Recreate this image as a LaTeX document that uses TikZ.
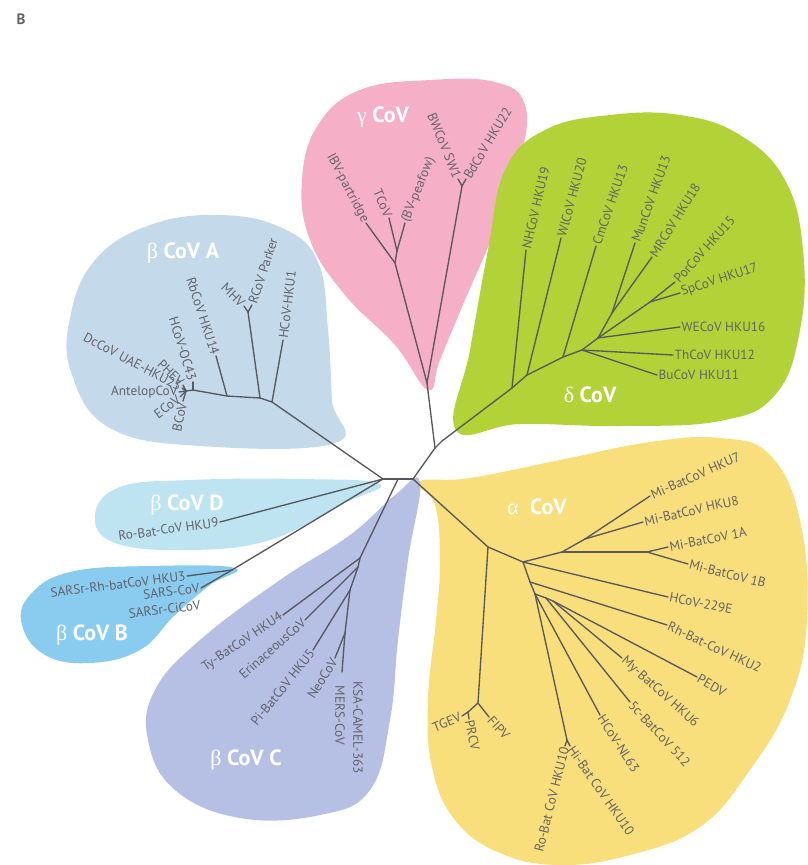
\documentclass[tikz,border=0pt]{standalone}
\usepackage{fontspec}
\setmainfont{PT Sans}
\newfontfamily\grk{Liberation Serif}

\definecolor{brgray}{RGB}{88,89,94}
\definecolor{lblgray}{RGB}{98,99,104}
\definecolor{alphaY}{RGB}{249,223,123}
\definecolor{deltaG}{RGB}{178,210,55}
\definecolor{gammaP}{RGB}{245,176,200}
\definecolor{betaA}{RGB}{196,218,235}
\definecolor{betaD}{RGB}{190,228,242}
\definecolor{betaB}{RGB}{138,203,240}
\definecolor{betaC}{RGB}{181,192,228}

\begin{document}
\begin{tikzpicture}[x=1pt,y=-1pt,
    br/.style={draw=brgray, line width=1.35pt, line cap=round},
    lbl/.style={text=lblgray, font=\fontsize{13.3}{15}\selectfont, inner sep=1.5pt},
    clade/.style={text=white, font=\fontsize{22}{26}\selectfont\bfseries}]

\useasboundingbox (0,0) rectangle (807,865);

\node[text=lblgray, font=\bfseries\fontsize{15}{17}\selectfont] (panel) at (21,19) {B};

% clade areas
\fill[betaA] plot[smooth cycle, tension=0.7] coordinates {(335,443) (200,446) (110,428) (72,375) (70,318) (95,260) (150,225) (220,215) (282,228) (318,262) (328,330) (332,400)};
\fill[gammaP] plot[smooth cycle, tension=0.7] coordinates {(428,390) (395,345) (345,295) (310,240) (302,180) (318,125) (360,90) (430,80) (495,82) (525,105) (520,160) (495,230) (465,300) (440,360)};
\fill[deltaG] plot[smooth cycle, tension=0.7] coordinates {(456,430) (520,424) (620,426) (720,421) (775,395) (800,330) (803,250) (785,180) (740,135) (680,115) (610,115) (545,130) (505,170) (488,250) (470,350)};
\fill[alphaY] plot[smooth cycle, tension=0.7] coordinates {(418,482) (470,478) (560,460) (650,442) (720,438) (770,455) (800,520) (807,620) (790,700) (750,770) (700,827) (630,855) (560,865) (500,853) (455,820) (432,767) (428,700) (436,620) (440,560) (435,505)};
\fill[betaD] plot[smooth cycle, tension=0.7] coordinates {(380,484) (300,479) (190,480) (120,487) (95,515) (115,543) (190,550) (270,540) (340,505)};
\fill[betaB] plot[smooth cycle, tension=0.7] coordinates {(235,568) (150,566) (70,572) (30,595) (22,625) (45,655) (90,663) (140,650) (175,615) (210,585)};
\fill[betaC] plot[smooth cycle, tension=0.7] coordinates {(420,482) (395,495) (350,535) (280,580) (200,640) (155,690) (148,740) (175,790) (240,818) (320,815) (370,790) (390,720) (398,640) (408,560)};

% hub
\coordinate (L) at (383,479);
\coordinate (Mc) at (398,479);
\coordinate (R) at (413,479);
\coordinate (G1) at (435,448);
\coordinate (d0) at (442,441);
% gamma
\coordinate (gR) at (427,383);
\coordinate (gN1) at (395,263);
\coordinate (gN2) at (397,251);
\coordinate (gF) at (462,186);
\coordinate (gIBVp) at (366,223);
\coordinate (gTCoV) at (389,218);
\coordinate (gIBVf) at (405,223);
\coordinate (gBW) at (458,179);
\coordinate (gBd) at (466,179);
% delta
\coordinate (dA) at (512,388);
\coordinate (dB) at (527,375);
\coordinate (dC) at (563,357);
\coordinate (dD) at (582,350);
\coordinate (dE) at (598,338);
\coordinate (dH) at (612,313);
\coordinate (dG) at (650,302);
\coordinate (dNH) at (526,250);
\coordinate (dWl) at (561,238);
\coordinate (dCm) at (596,246);
\coordinate (dMun) at (635,243);
\coordinate (dMR) at (652,257);
\coordinate (dPor) at (675,282);
\coordinate (dSp) at (680,293);
\coordinate (dWE) at (680,327);
\coordinate (dTh) at (673,355);
\coordinate (dBu) at (657,375);
% alpha
\coordinate (A0) at (488,547);
\coordinate (A1) at (523,562);
\coordinate (aM0) at (562,552);
\coordinate (aM1) at (585,539);
\coordinate (aM2) at (647,552);
\coordinate (A3) at (530,582);
\coordinate (A4) at (535,594);
\coordinate (A6) at (546,598);
\coordinate (A7) at (553,601);
\coordinate (aT) at (478,703);
\coordinate (aTP) at (468,712);
\coordinate (aRH) at (567,740);
\coordinate (a7) at (650,496);
\coordinate (a8) at (643,522);
\coordinate (a1A) at (668,547);
\coordinate (a1B) at (688,564);
\coordinate (a229) at (668,597);
\coordinate (aRh) at (667,625);
\coordinate (aPED) at (697,677);
\coordinate (aMy) at (622,658);
\coordinate (a5c) at (630,702);
\coordinate (aNL) at (600,715);
\coordinate (aHi) at (570,746);
\coordinate (aRo) at (565,746);
\coordinate (aTG) at (462,716);
\coordinate (aPR) at (469,719);
\coordinate (aFI) at (489,717);
% beta A
\coordinate (bA) at (272,402);
\coordinate (aN1) at (260,398);
\coordinate (aF) at (248,312);
\coordinate (aN2) at (227,396);
\coordinate (aN3) at (193,390);
\coordinate (aN4) at (186,391);
\coordinate (bHKU1) at (283,340);
\coordinate (bMHV) at (244,306);
\coordinate (bRCoV) at (252,305);
\coordinate (bHKU14) at (216,356);
\coordinate (bOC43) at (193,382);
\coordinate (bPHEV) at (183,385);
\coordinate (bDc) at (182,388);
\coordinate (bAnt) at (179,392);
\coordinate (bE) at (180,397);
\coordinate (bBC) at (183,401);
% beta D, B
\coordinate (bD9) at (220,522);
\coordinate (Broot) at (232,570);
\coordinate (bH3) at (187,576);
\coordinate (bSARS) at (201,588);
% beta C
\coordinate (cN1) at (360,558);
\coordinate (cN2) at (358,567);
\coordinate (cN3) at (350,590);
\coordinate (cN4) at (345,633);
\coordinate (cTy) at (283,615);
\coordinate (cEr) at (305,620);
\coordinate (cPi) at (313,650);
\coordinate (cNeo) at (335,658);
\coordinate (cMK) at (342,672);

% branches
\foreach \a/\b in {L/Mc, Mc/R, R/G1, G1/d0, G1/gR, R/A0, L/bA, L/bD9, L/Broot, Mc/cN1,
    gR/gN1, gN1/gIBVp, gN1/gN2, gN2/gTCoV, gN2/gIBVf, gR/gF, gF/gBW, gF/gBd,
    d0/dA, dA/dNH, dA/dB, dB/dWl, dB/dC, dC/dCm, dC/dD, dD/dBu, dD/dTh, dD/dE, dE/dWE,
    dE/dH, dH/dMun, dH/dMR, dE/dG, dG/dPor, dG/dSp,
    A0/A1, A0/aT, aT/aTP, aTP/aTG, aTP/aPR, aT/aFI,
    A1/aM0, aM0/aM1, aM1/a7, aM1/a8, aM0/aM2, aM2/a1A, aM2/a1B, A1/a229,
    A1/A3, A3/aRh, A3/A4, A4/aRH, aRH/aHi, aRH/aRo, A4/aNL, A4/A6, A6/a5c, A6/A7, A7/aPED, A7/aMy,
    bA/bHKU1, bA/aN1, aN1/aF, aF/bMHV, aF/bRCoV, aN1/aN2, aN2/bHKU14, aN2/aN3, aN3/bOC43,
    aN3/aN4, aN4/bPHEV, aN4/bDc, aN4/bAnt, aN4/bE, aN4/bBC,
    Broot/bH3, Broot/bSARS,
    cN1/cTy, cN1/cN2, cN2/cEr, cN2/cN3, cN3/cPi, cN3/cN4, cN4/cNeo, cN4/cMK}
  \draw[br] (\a) -- (\b);

% gamma labels
\node[lbl, anchor=east, rotate=-62] (tIBVp) at (gIBVp) {IBV-partridge};
\node[lbl, anchor=east, rotate=-67] (tTCoV) at (gTCoV) {TCoV};
\node[lbl, anchor=west, rotate=68] (tIBVf) at (gIBVf) {(BV-peafow)};
\node[lbl, anchor=east, rotate=-68] (tBW) at (gBW) {BWCoV SW1};
\node[lbl, anchor=west, rotate=59] (tBd) at (gBd) {BdCoV HKU22};
% delta labels
\node[lbl, anchor=west, rotate=77] (tNH) at (dNH) {NHCoV HKU19};
\node[lbl, anchor=west, rotate=75] (tWl) at (dWl) {WlCoV HKU20};
\node[lbl, anchor=west, rotate=71] (tCm) at (dCm) {CmCoV HKU13};
\node[lbl, anchor=west, rotate=70] (tMun) at (dMun) {MunCoV HKU13};
\node[lbl, anchor=west, rotate=58] (tMR) at (dMR) {MRCoV HKU18};
\node[lbl, anchor=west, rotate=48] (tPor) at (dPor) {PorCoV HKU15};
\node[lbl, anchor=west, rotate=18] (tSp) at (dSp) {SpCoV HKU17};
\node[lbl, anchor=west] (tWE) at (dWE) {WECoV HKU16};
\node[lbl, anchor=west] (tTh) at (dTh) {ThCoV HKU12};
\node[lbl, anchor=west] (tBu) at (dBu) {BuCoV HKU11};
% alpha labels
\node[lbl, anchor=west, rotate=24] (t7) at (a7) {Mi-BatCoV HKU7};
\node[lbl, anchor=west, rotate=13] (t8) at (a8) {Mi-BatCoV HKU8};
\node[lbl, anchor=west, rotate=11] (t1A) at (a1A) {Mi-BatCoV 1A};
\node[lbl, anchor=west, rotate=-14] (t1B) at (a1B) {Mi-BatCoV 1B};
\node[lbl, anchor=west, rotate=-11] (t229) at (a229) {HCoV-229E};
\node[lbl, anchor=west, rotate=-25] (tRh) at (aRh) {Rh-Bat-CoV HKU2};
\node[lbl, anchor=west, rotate=-30] (tPED) at (aPED) {PEDV};
\node[lbl, anchor=west, rotate=-42] (tMy) at (aMy) {My-BatCoV HKU6};
\node[lbl, anchor=west, rotate=-47] (t5c) at (a5c) {5c-BatCoV 512};
\node[lbl, anchor=west, rotate=-57] (tNL) at (aNL) {HCoV-NL63};
\node[lbl, anchor=west, rotate=-55] (tHi) at (aHi) {Hi-Bat CoV HKU10};
\node[lbl, anchor=east, rotate=76] (tRo) at (aRo) {Ro-Bat CoV HKU10};
\node[lbl, anchor=east, rotate=22] (tTG) at (aTG) {TGEV};
\node[lbl, anchor=west, rotate=-78] (tPR) at (aPR) {PRCV};
\node[lbl, anchor=west, rotate=-48] (tFI) at (aFI) {FIPV};
% beta A labels
\node[lbl, anchor=west, rotate=83] (tHKU1) at (bHKU1) {HCoV-HKU1};
\node[lbl, anchor=west, rotate=72] (tRCoV) at (bRCoV) {RCoV Parker};
\node[lbl, anchor=east, rotate=-45] (tMHV) at (bMHV) {MHV};
\node[lbl, anchor=east, rotate=-72] (tHKU14) at (bHKU14) {RbCoV HKU14};
\node[lbl, anchor=east, rotate=-73] (tOC43) at (bOC43) {HCoV-OC43};
\node[lbl, anchor=east, rotate=-45] (tPHEV) at (bPHEV) {PHEV};
\node[lbl, anchor=east, rotate=-28] (tDc) at (bDc) {DcCoV UAE-HKU23};
\node[lbl, anchor=east] (tAnt) at (bAnt) {AntelopCoV};
\node[lbl, anchor=east, rotate=37] (tE) at (bE) {ECoV};
\node[lbl, anchor=east, rotate=78] (tBC) at (bBC) {BCoV};
% beta D, B labels
\node[lbl, anchor=east, rotate=8] (tD9) at (bD9) {Ro-Bat-CoV HKU9};
\node[lbl, anchor=east, rotate=7] (tH3) at (bH3) {SARSr-Rh-batCoV HKU3};
\node[lbl, anchor=east, rotate=7] (tSARS) at (bSARS) {SARS-CoV};
\node[lbl, anchor=east, rotate=7] (tCi) at (202,605) {SARSr-CiCoV};
% beta C labels
\node[lbl, anchor=east, rotate=34] (tTy) at (cTy) {Ty-BatCoV HKU4};
\node[lbl, anchor=east, rotate=41] (tEr) at (cEr) {ErinaceousCoV};
\node[lbl, anchor=east, rotate=51] (tPi) at (cPi) {Pi-BatCoV HKU5};
\node[lbl, anchor=east, rotate=58] (tNeo) at (cNeo) {NeoCoV};
\node[lbl, anchor=west, rotate=-90] (tMERS) at (340,684) {MERS-CoV};
\node[lbl, anchor=west, rotate=-90] (tKSA) at (358,680) {KSA-CAMEL-363};

% clade names
\node[clade] (gammaLbl) at (383,117) {{\grk\mdseries γ}\ CoV};
\node[clade] (deltaLbl) at (590,395) {{\grk\mdseries δ}\ CoV};
\node[clade] (alphaLbl) at (537,507) {{\grk\mdseries α}\ \ CoV};
\node[clade] (betaALbl) at (183,253) {{\grk\mdseries β}\ CoV A};
\node[clade] (betaDLbl) at (187,505) {{\grk\mdseries β}\ CoV D};
\node[clade] (betaBLbl) at (92,635) {{\grk\mdseries β}\ CoV B};
\node[clade] (betaCLbl) at (246,760) {{\grk\mdseries β}\ CoV C};
\end{tikzpicture}
\end{document}
